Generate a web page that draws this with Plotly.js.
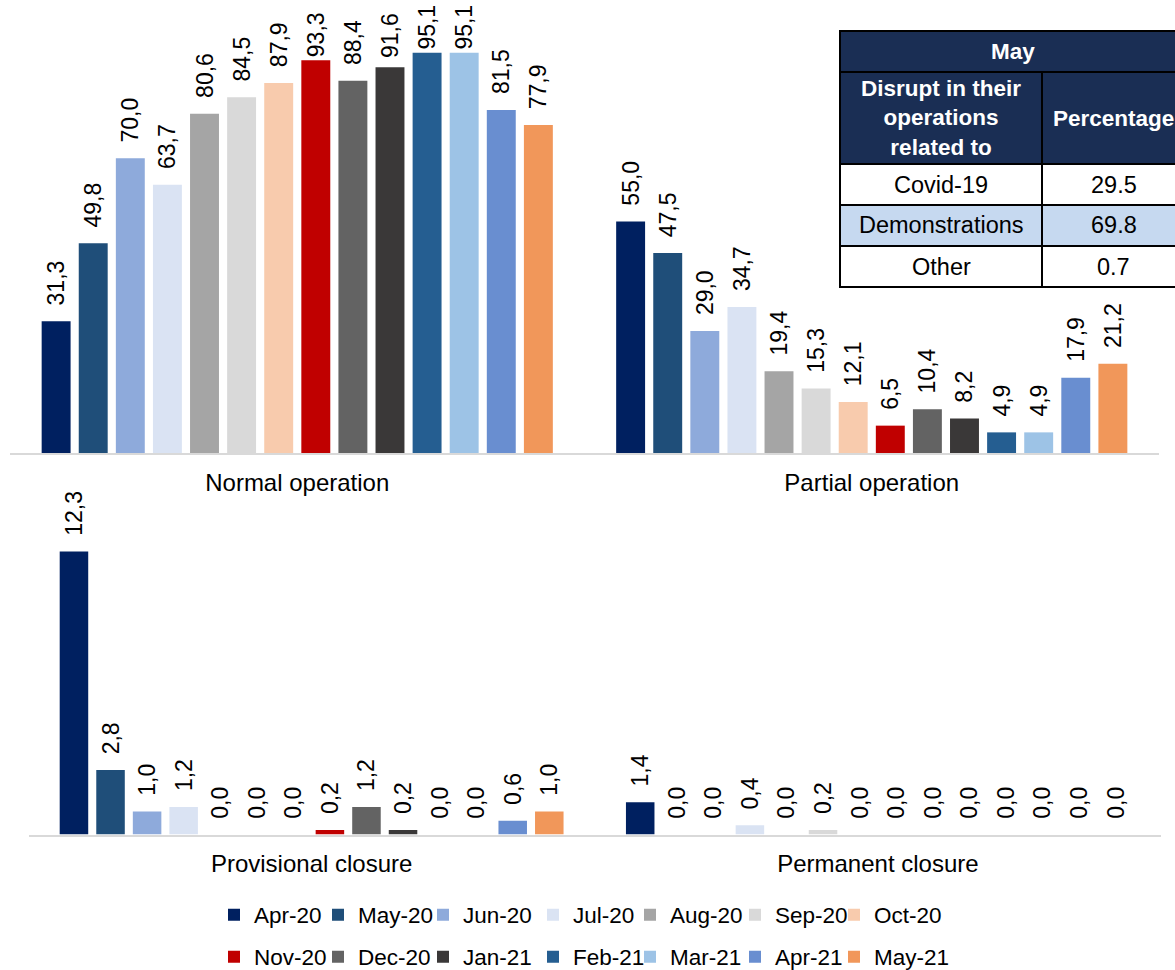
<!DOCTYPE html>
<html>
<head>
<meta charset="utf-8">
<script src="https://cdn.plot.ly/plotly-3.0.1.min.js"></script>
<style>
  html, body { margin: 0; padding: 0; background: #ffffff; }
  #chart { width: 1175px; height: 970px; }
</style>
</head>
<body>
<div id="chart"></div>
<script>
// Survey months (one bar series per month)
const months = ['Apr-20', 'May-20', 'Jun-20', 'Jul-20', 'Aug-20', 'Sep-20', 'Oct-20',
                'Nov-20', 'Dec-20', 'Jan-21', 'Feb-21', 'Mar-21', 'Apr-21', 'May-21'];

// Category groups of the two panels
const topCategories = ['Normal operation', 'Partial operation'];
const bottomCategories = ['Provisional closure', 'Permanent closure'];

// Share of firms (%) by operating status, per month
const normalOperation    = [31.3, 49.8, 70.0, 63.7, 80.6, 84.5, 87.9, 93.3, 88.4, 91.6, 95.1, 95.1, 81.5, 77.9];
const partialOperation   = [55.0, 47.5, 29.0, 34.7, 19.4, 15.3, 12.1, 6.5, 10.4, 8.2, 4.9, 4.9, 17.9, 21.2];
const provisionalClosure = [12.3, 2.8, 1.0, 1.2, 0.0, 0.0, 0.0, 0.2, 1.2, 0.2, 0.0, 0.0, 0.6, 1.0];
const permanentClosure   = [1.4, 0.0, 0.0, 0.4, 0.0, 0.2, 0.0, 0.0, 0.0, 0.0, 0.0, 0.0, 0.0, 0.0];

// Side table: cause of disruption in May
const tableTitle = 'May';
const tableHeader = ['Disrupt in their<br>operations<br>related to', 'Percentage'];
const tableLabels = ['Covid-19', 'Demonstrations', 'Other'];
const tableValues = [29.5, 69.8, 0.7];

// Series colours
const monthColors = ['#002060', '#1f4e79', '#8eaadb', '#dae3f3', '#a5a5a5', '#d9d9d9', '#f8cbad',
                     '#c00000', '#636363', '#3a3838', '#255e91', '#9dc3e6', '#698ed0', '#f1975a'];

// ---- page geometry (px) ----
const W = 1175, H = 970;
const FONT = 'Liberation Sans, Arial, Helvetica, sans-serif';
const topPanel    = { left: 10,   right: 1159, base: 453,   pxPerUnit: 4.21, max: 100, labelLimit: 8 };
const bottomPanel = { left: 28.5, right: 1161, base: 834.5, pxPerUnit: 23.0, max: 13,  labelLimit: 490 };
const px = function (v) { return v / W; };
const py = function (v) { return (H - v) / H; };

// Legend grid: left edge of each column and centre of each row
const legendColumns = [237, 341, 446, 556, 653, 758, 857];
const legendRows = [915, 957];

// Value labels sit a little above their bar; near the top edge of a panel the
// spacing shrinks so the label stays on the page.
const NBSP = '\u00a0';
function labelTemplates(values, panel) {
  return values.map(function (v) {
    const barTop = panel.base - v * panel.pxPerUnit;
    const room = barTop - panel.labelLimit - 48;
    const n = Math.max(0, Math.min(2, Math.floor(room / 6.4)));
    return NBSP.repeat(n) + '%{y:.1f}';
  });
}

function yDomain(panel) {
  return [py(panel.base), py(panel.base - panel.max * panel.pxPerUnit)];
}

function barTrace(name, x, y, i, xa, ya, panel) {
  return {
    type: 'bar', name: name, x: x, y: y,
    xaxis: xa, yaxis: ya,
    marker: { color: monthColors[i], line: { width: 0 } },
    texttemplate: labelTemplates(y, panel),
    textposition: 'outside', textangle: -90, cliponaxis: false,
    constraintext: 'none',
    outsidetextfont: { family: FONT, size: 23, color: '#000000' },
    hoverinfo: 'skip'
  };
}

const traces = [];
months.forEach(function (m, i) {
  const t = barTrace(m, topCategories, [normalOperation[i], partialOperation[i]], i, 'x', 'y', topPanel);
  t.legend = i === 0 ? 'legend' : 'legend' + (i + 1);
  t.showlegend = true;
  traces.push(t);
});
months.forEach(function (m, i) {
  const t = barTrace(m, bottomCategories, [provisionalClosure[i], permanentClosure[i]], i, 'x2', 'y2', bottomPanel);
  t.showlegend = false;
  traces.push(t);
});

// ---- side table (cells as shapes, contents as text) ----
const navy = '#1a2e54';
const tableCols = [840, 1042, 1185];          // column edges
const tableRows = [31, 72, 164, 205, 246, 287]; // row edges
const bodyFills = ['#ffffff', '#c6d9f0', '#ffffff'];
const shapes = [];
const annotations = [];
function cell(x0, x1, y0, y1, fill) {
  shapes.push({
    type: 'rect', xref: 'paper', yref: 'paper',
    x0: px(x0), x1: px(x1), y0: py(y1), y1: py(y0),
    fillcolor: fill, line: { color: '#000000', width: 2 }, layer: 'above'
  });
}
function cellText(x0, x1, y0, y1, text, font) {
  annotations.push({
    xref: 'paper', yref: 'paper', x: px((x0 + x1) / 2), y: py((y0 + y1) / 2),
    xanchor: 'center', yanchor: 'middle', showarrow: false, align: 'center',
    text: text, font: font
  });
}
const headFont = { family: FONT, size: 22.5, color: '#ffffff' };
const bodyFont = { family: FONT, size: 23.5, color: '#000000' };
cell(tableCols[0], tableCols[2], tableRows[0], tableRows[1], navy);
cellText(tableCols[0], tableCols[2], tableRows[0], tableRows[1], '<b>' + tableTitle + '</b>', headFont);
tableHeader.forEach(function (h, c) {
  cell(tableCols[c], tableCols[c + 1], tableRows[1], tableRows[2], navy);
  cellText(tableCols[c], tableCols[c + 1], tableRows[1], tableRows[2], '<b>' + h + '</b>', headFont);
});
tableLabels.forEach(function (lab, r) {
  const y0 = tableRows[r + 2], y1 = tableRows[r + 3];
  cell(tableCols[0], tableCols[1], y0, y1, bodyFills[r]);
  cell(tableCols[1], tableCols[2], y0, y1, bodyFills[r]);
  cellText(tableCols[0], tableCols[1], y0, y1, lab, bodyFont);
  cellText(tableCols[1], tableCols[2], y0, y1, tableValues[r].toFixed(1), bodyFont);
});

const xAxisStyle = {
  showline: true, linecolor: '#d9d9d9', linewidth: 2,
  ticks: '', ticklabelstandoff: 7, showgrid: false, zeroline: false, fixedrange: true,
  tickfont: { family: FONT, size: 24, color: '#000000' }
};
const yAxisStyle = { visible: false, fixedrange: true, showgrid: false, zeroline: false };

const layout = {
  width: W, height: H,
  margin: { l: 0, r: 0, t: 0, b: 0, pad: 0, autoexpand: false },
  paper_bgcolor: '#ffffff', plot_bgcolor: 'rgba(0,0,0,0)',
  font: { family: FONT, size: 24, color: '#000000' },
  separators: ', ',
  barmode: 'group', bargap: 0.096, bargroupgap: 0.22,
  xaxis: Object.assign({ domain: [px(topPanel.left), px(topPanel.right)], anchor: 'y' }, xAxisStyle),
  yaxis: Object.assign({ domain: yDomain(topPanel), range: [0, topPanel.max], anchor: 'x' }, yAxisStyle),
  xaxis2: Object.assign({ domain: [px(bottomPanel.left), px(bottomPanel.right)], anchor: 'y2' }, xAxisStyle),
  yaxis2: Object.assign({ domain: yDomain(bottomPanel), range: [0, bottomPanel.max], anchor: 'x2' }, yAxisStyle),
  shapes: shapes,
  annotations: annotations,
  showlegend: true
};

// one legend box per month, laid out on a 7 x 2 grid
months.forEach(function (m, i) {
  const key = i === 0 ? 'legend' : 'legend' + (i + 1);
  layout[key] = {
    orientation: 'h', xanchor: 'left', yanchor: 'middle',
    x: px(legendColumns[i % 7] - 23), y: py(legendRows[Math.floor(i / 7)]),
    bgcolor: 'rgba(0,0,0,0)', borderwidth: 0,
    font: { family: FONT, size: 22.5, color: '#000000' }
  };
});

Plotly.newPlot('chart', traces, layout, { displayModeBar: false, staticPlot: true });
</script>
</body>
</html>
